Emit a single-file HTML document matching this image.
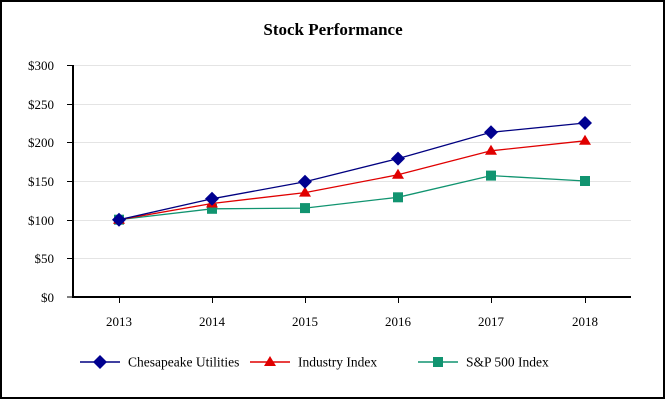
<!DOCTYPE html>
<html><head><style>
body{margin:0;background:#fff;}
svg{display:block;font-family:"Liberation Serif",serif;}
</style></head><body>
<svg width="666" height="400" viewBox="0 0 666 400">
<rect x="0" y="0" width="666" height="400" fill="#fff"/>
<rect x="1" y="1" width="663" height="397" fill="none" stroke="#000" stroke-width="2"/>
<text x="333" y="35" text-anchor="middle" font-size="17" font-weight="bold">Stock Performance</text>
<g stroke="#e4e4e4" stroke-width="1">
<line x1="73" x2="631" y1="65.5" y2="65.5"/>
<line x1="73" x2="631" y1="104.5" y2="104.5"/>
<line x1="73" x2="631" y1="142.5" y2="142.5"/>
<line x1="73" x2="631" y1="181.5" y2="181.5"/>
<line x1="73" x2="631" y1="220.5" y2="220.5"/>
<line x1="73" x2="631" y1="258.5" y2="258.5"/>
</g>
<g stroke="#000">
<line x1="73" x2="73" y1="65" y2="298" stroke-width="2"/>
<line x1="72" x2="631" y1="297" y2="297" stroke-width="2"/>
<line x1="67" x2="73" y1="65.5" y2="65.5"/>
<line x1="67" x2="73" y1="104.5" y2="104.5"/>
<line x1="67" x2="73" y1="142.5" y2="142.5"/>
<line x1="67" x2="73" y1="181.5" y2="181.5"/>
<line x1="67" x2="73" y1="220.5" y2="220.5"/>
<line x1="67" x2="73" y1="258.5" y2="258.5"/>
<line x1="67" x2="73" y1="297" y2="297"/>
<line x1="119.5" x2="119.5" y1="297" y2="303"/>
<line x1="212.5" x2="212.5" y1="297" y2="303"/>
<line x1="305.5" x2="305.5" y1="297" y2="303"/>
<line x1="398.5" x2="398.5" y1="297" y2="303"/>
<line x1="491.5" x2="491.5" y1="297" y2="303"/>
<line x1="585.5" x2="585.5" y1="297" y2="303"/>
</g>
<g font-size="13" text-anchor="end">
<text x="54" y="70">$300</text><text x="54" y="109">$250</text><text x="54" y="147">$200</text>
<text x="54" y="186">$150</text><text x="54" y="225">$100</text><text x="54" y="263">$50</text><text x="54" y="302">$0</text>
</g>
<g font-size="13" text-anchor="middle">
<text x="119" y="326">2013</text><text x="212" y="326">2014</text><text x="305" y="326">2015</text>
<text x="398" y="326">2016</text><text x="491" y="326">2017</text><text x="585" y="326">2018</text>
</g>
<polyline fill="none" stroke="#119470" stroke-width="1.3" points="119,219.7 212,208.8 305,208.1 398,197.3 491,175.6 585,181"/>
<g fill="#119470">
<rect x="114" y="214.7" width="10" height="10"/><rect x="207" y="203.8" width="10" height="10"/>
<rect x="300" y="203.1" width="10" height="10"/><rect x="393" y="192.3" width="10" height="10"/>
<rect x="486" y="170.6" width="10" height="10"/><rect x="580" y="176" width="10" height="10"/>
</g>
<polyline fill="none" stroke="#e00000" stroke-width="1.3" points="119,219.7 212,203.5 305,192.6 398,174.8 491,150.8 585,140.8"/>
<g fill="#e00000">
<path d="M119,213.7l6,10h-12z"/><path d="M212,197.5l6,10h-12z"/><path d="M305,186.6l6,10h-12z"/>
<path d="M398,168.8l6,10h-12z"/><path d="M491,144.8l6,10h-12z"/><path d="M585,134.8l6,10h-12z"/>
</g>
<polyline fill="none" stroke="#000080" stroke-width="1.3" points="119,219.7 212,198.8 305,181.8 398,158.6 491,132.3 585,123"/>
<g fill="#000090">
<path d="M119,212.7l7,7l-7,7l-7,-7z"/><path d="M212,191.8l7,7l-7,7l-7,-7z"/><path d="M305,174.8l7,7l-7,7l-7,-7z"/>
<path d="M398,151.6l7,7l-7,7l-7,-7z"/><path d="M491,125.3l7,7l-7,7l-7,-7z"/><path d="M585,116l7,7l-7,7l-7,-7z"/>
</g>
<line x1="80" x2="120" y1="362" y2="362" stroke="#000080" stroke-width="1.5"/>
<path d="M100,355l7,7l-7,7l-7,-7z" fill="#000090"/>
<text x="128" y="366.5" font-size="13.5">Chesapeake Utilities</text>
<line x1="250" x2="290" y1="362" y2="362" stroke="#e00000" stroke-width="1.5"/>
<path d="M270,356l6,10h-12z" fill="#e00000"/>
<text x="298" y="366.5" font-size="13.5">Industry Index</text>
<line x1="418" x2="458" y1="362" y2="362" stroke="#119470" stroke-width="1.5"/>
<rect x="433" y="357" width="10" height="10" fill="#119470"/>
<text x="466" y="366.5" font-size="13.5">S&amp;P 500 Index</text>
</svg>
</body></html>
